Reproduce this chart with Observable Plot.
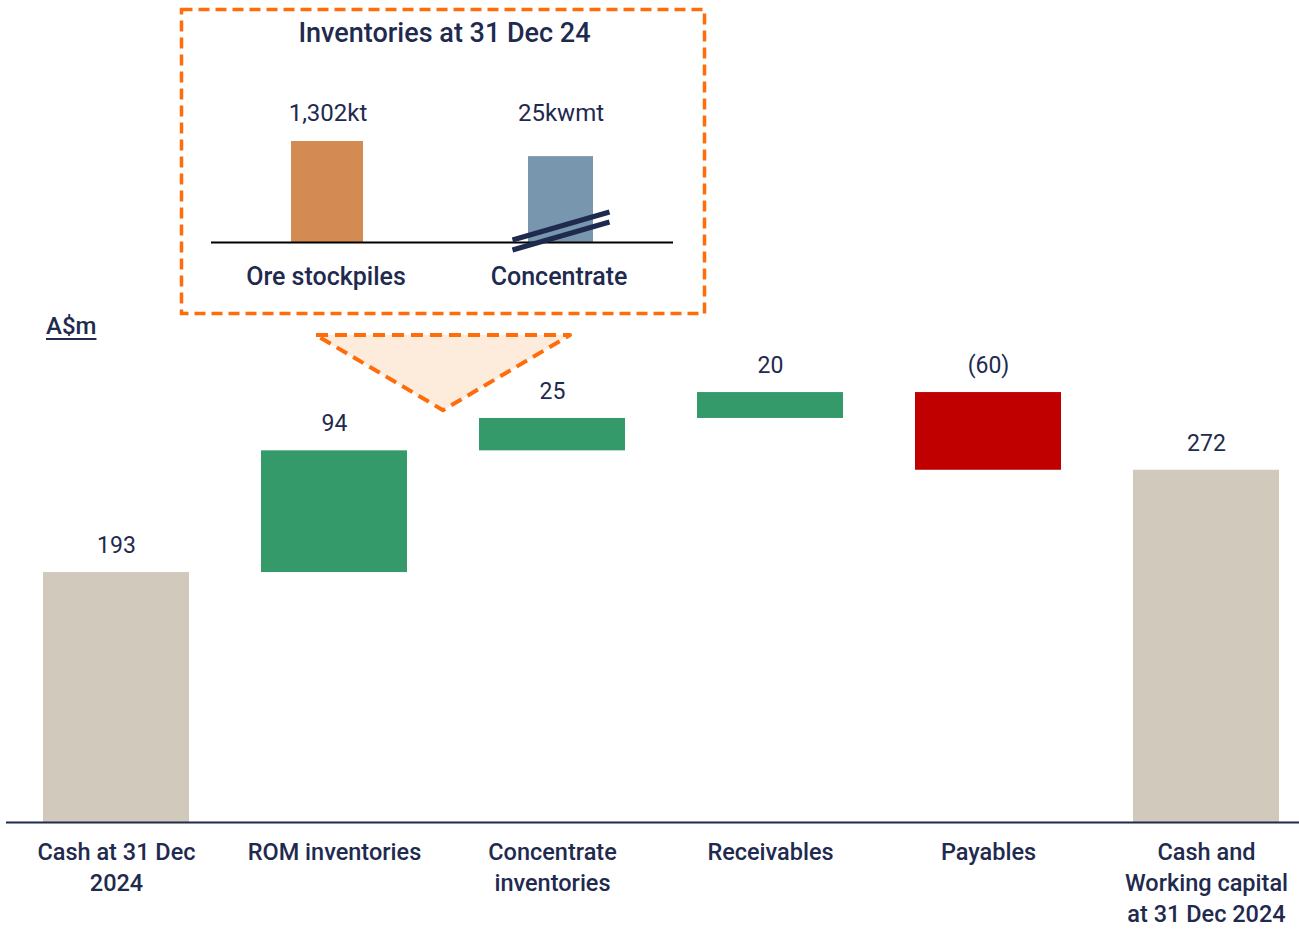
<!DOCTYPE html>
<html>
<head>
<meta charset="utf-8">
<script src="https://cdn.jsdelivr.net/npm/d3@7"></script>
<script src="https://cdn.jsdelivr.net/npm/@observablehq/plot@0.6"></script>
<style>
  html, body { margin: 0; padding: 0; background: #fff; overflow: hidden; }
  #wrap { position: relative; width: 1299px; height: 930px; font-family: Roboto, "Noto Sans", sans-serif; }
  #main { position: absolute; left: 0; top: 0; }
  #inset { position: absolute; left: 170px; top: 0; }
  #unit { position: absolute; left: 46px; top: 311px; font-size: 24px; font-weight: 500; color: #1f2a4f;
          text-decoration: underline; text-decoration-thickness: 2px; text-underline-offset: 4px; line-height: 30px; }
</style>
</head>
<body>
<div id="wrap">
  <div id="main"></div>
  <div id="inset"></div>
  <div id="unit">A$m</div>
</div>
<script>
// ---- Main waterfall data ----
const categories = ["Cash at 31 Dec 2024", "ROM inventories", "Concentrate inventories", "Receivables", "Payables", "Cash and Working capital at 31 Dec 2024"];
const tickLabels = ["Cash at 31 Dec\n2024", "ROM inventories", "Concentrate\ninventories", "Receivables", "Payables", "Cash and\nWorking capital\nat 31 Dec 2024"];
const values = [193, 94, 25, 20, -60, 272];
const kinds = ["total", "delta", "delta", "delta", "delta", "total"];
const valueLabels = ["193", "94", "25", "20", "(60)", "272"];

// ---- Inset data ----
const insetTitle = "Inventories at 31 Dec 24";
const insetCats = ["Ore stockpiles", "Concentrate"];
const insetLabels = ["1,302kt", "25kwmt"];
const insetRelHeight = [1, 0.85]; // drawn bar heights relative to ore bar (concentrate axis is broken)

const navy = "#1f2a4f";
const orange = "#ff6d0a";
const colTotal = "#d1c9bc", colUp = "#349a6a", colDown = "#c00000";

// build waterfall rows
let run = 0;
const rows = categories.map((c, i) => {
  let start, end;
  if (kinds[i] === "total") { start = 0; end = values[i]; run = values[i]; }
  else { start = run; end = run + values[i]; run = end; }
  const kind = kinds[i] === "total" ? "total" : (values[i] >= 0 ? "up" : "down");
  return {cat: c, start, end, top: Math.max(start, end), label: valueLabels[i], kind};
});
const labelMap = new Map(categories.map((c, i) => [c, tickLabels[i]]));

const main = Plot.plot({
  width: 1299, height: 930,
  marginLeft: 6, marginRight: 0, marginTop: 304, marginBottom: 108,
  style: {fontFamily: "Roboto, 'Noto Sans', sans-serif", background: "#fff", color: navy},
  x: {domain: categories, range: [6, 1316], paddingInner: 0.331, paddingOuter: 0.165, label: null},
  y: {domain: [0, 400], axis: null},
  marks: [
    Plot.barY(rows.filter(d => d.kind === "total"), {x: "cat", y1: "start", y2: "end", fill: colTotal}),
    Plot.barY(rows.filter(d => d.kind === "up"), {x: "cat", y1: "start", y2: "end", fill: colUp}),
    Plot.barY(rows.filter(d => d.kind === "down"), {x: "cat", y1: "start", y2: "end", fill: colDown}),
    Plot.text(rows, {x: "cat", y: "top", text: "label", dy: -27, fontSize: 23, fill: navy}),
    Plot.ruleY([0], {stroke: navy, strokeWidth: 2}),
    Plot.axisX({tickSize: 0, tickPadding: 15, fontSize: 23.5, fontWeight: 500, lineHeight: 1.33,
                fill: navy, label: null, tickFormat: d => labelMap.get(d)})
  ]
});
document.getElementById("main").appendChild(main);

// callout triangle (decoration) placed between ROM and Concentrate bars
{
  const xs = main.scale("x"), ys = main.scale("y");
  const bw = xs.bandwidth;
  const c1 = xs.apply(categories[1]) + bw / 2, c2 = xs.apply(categories[2]) + bw / 2;
  const cx = (c1 + c2) / 2;
  const apexY = ys.apply(318), topY = ys.apply(376);
  const half = 127;
  d3.select(main).append("polygon")
    .attr("points", `${cx - half},${topY} ${cx + half},${topY} ${cx},${apexY}`)
    .attr("fill", "#fdebdc").attr("stroke", orange).attr("stroke-width", 4)
    .attr("stroke-dasharray", "12 7").attr("stroke-linejoin", "round");
}

// ---- Inset chart ----
const insetRows = insetCats.map((c, i) => ({cat: c, h: insetRelHeight[i], label: insetLabels[i], i}));
const insetMax = d3.max(insetRelHeight);
const inset = Plot.plot({
  width: 545, height: 325,
  marginLeft: 41, marginRight: 42, marginTop: 141, marginBottom: 83,
  style: {fontFamily: "Roboto, 'Noto Sans', sans-serif", background: "transparent", color: navy},
  x: {domain: insetCats, paddingInner: 0.706, paddingOuter: 0.343, axis: null},
  y: {domain: [0, insetMax], axis: null},
  marks: [
    Plot.frame({stroke: orange, strokeWidth: 3.5, strokeDasharray: "11 6",
                insetLeft: -30, insetRight: -31, insetTop: -132, insetBottom: -71}),
    Plot.barY(insetRows.filter(d => d.i === 0), {x: "cat", y: "h", fill: "#d38b53", insetRight: -3}),
    Plot.barY(insetRows.filter(d => d.i === 1), {x: "cat", y: "h", fill: "#7896ad", insetLeft: 4}),
    Plot.ruleY([0], {stroke: "#000", strokeWidth: 2}),
    Plot.text(insetRows, {x: "cat", y: () => insetMax, text: "label", dy: -28, dx: 2, fontSize: 24, fill: navy}),
    Plot.text(insetRows, {x: "cat", y: () => 0, text: "cat", dy: 34, fontSize: 25, fontWeight: 500, fill: navy}),
    Plot.text([insetTitle], {frameAnchor: "top", lineAnchor: "middle", dy: -108, dx: 2, fontSize: 27, fontWeight: 500, fill: navy})
  ]
});
document.getElementById("inset").appendChild(inset);

// axis-break marks on the concentrate bar (decoration)
{
  const xs = inset.scale("x"), ys = inset.scale("y");
  const cx = xs.apply(insetCats[1]) + xs.bandwidth / 2 + 2;
  const by = ys.apply(0);
  const g = d3.select(inset).append("g").attr("stroke", navy).attr("stroke-width", 5);
  [[-2, -30], [8, -20]].forEach(([a, b]) => {
    g.append("line").attr("x1", cx - 48).attr("y1", by + a).attr("x2", cx + 49).attr("y2", by + b);
  });
}
</script>
</body>
</html>
